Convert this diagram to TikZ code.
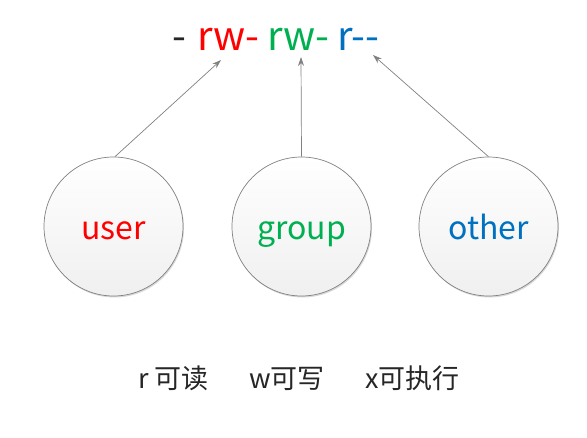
\documentclass[tikz,border=0pt]{standalone}
\usepackage{fontspec}
\setmainfont{Noto Sans CJK SC}
\usetikzlibrary{arrows.meta,shadows}
\definecolor{cred}{HTML}{FF0000}
\definecolor{cgreen}{HTML}{00B050}
\definecolor{cblue}{HTML}{0070C0}
\definecolor{cline}{HTML}{808080}
\definecolor{ctext}{HTML}{262626}
\begin{document}
\begin{tikzpicture}[x=1pt,y=-1pt,
  role/.style={circle,draw=cline,line width=0.7pt,minimum size=139pt,inner sep=0pt,
    top color=white,bottom color=black!6,
    drop shadow={shadow xshift=1pt,shadow yshift=-1.5pt,opacity=0.15,fill=black},
    font=\fontsize{32}{32}\selectfont,text height=25pt,text depth=0pt},
  perm/.style={anchor=base west,inner sep=0pt,font=\fontsize{40}{40}\selectfont},
  legend/.style={anchor=base west,inner sep=0pt,text=ctext,font=\fontsize{27}{27}\selectfont},
  link/.style={draw=cline,line width=0.7pt,-{Stealth[length=9pt,width=6pt,inset=3pt]}}]
\useasboundingbox (0,0) rectangle (587,437);
\node[perm,text=ctext] (p0) at (172,50) {-};
\node[perm,text=cred] (p1) at (197,50) {rw-};
\node[perm,text=cgreen] (p2) at (267,50) {rw-};
\node[perm,text=cblue] (p3) at (337,50) {r-{}-};
\node[role,text=cred] (user) at (113.5,226.5) {user};
\node[role,text=cgreen] (group) at (301.5,226.5) {group};
\node[role,text=cblue] (other) at (488.5,226.5) {other};
\coordinate (tu) at (221,60);
\coordinate (tg) at (301,57);
\coordinate (to) at (373,55);
\draw[link] (user.north) ++(1.5,0) -- (tu);
\draw[link] (group.north) -- (tg);
\draw[link] (other.north) -- (to);
\node[legend] (l1) at (138,388) {r 可读};
\node[legend] (l2) at (249,388) {w可写};
\node[legend] (l3) at (365,388) {x可执行};
\end{tikzpicture}
\end{document}
